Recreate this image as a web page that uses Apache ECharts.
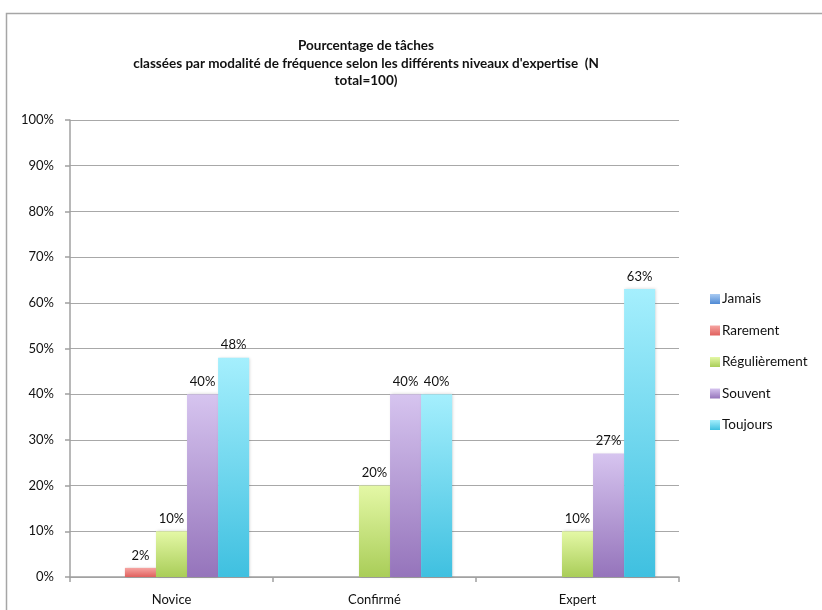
<!DOCTYPE html>
<html>
<head>
<meta charset="utf-8">
<script src="https://cdn.jsdelivr.net/npm/echarts@6/dist/echarts.min.js"></script>
<style>
  html, body { margin: 0; padding: 0; background: #fff; }
  #chart { width: 822px; height: 610px; }
</style>
</head>
<body>
<div id="chart"></div>
<script>
// Niveaux d'expertise (catégories)
const niveaux = ['Novice', 'Confirmé', 'Expert'];

// Pourcentage de tâches par modalité de fréquence
const jamais        = [0, 0, 0];
const rarement      = [2, 0, 0];
const regulierement = [10, 20, 10];
const souvent       = [40, 40, 27];
const toujours      = [48, 40, 63];

const yTicks = [0, 10, 20, 30, 40, 50, 60, 70, 80, 90, 100];

const FONT = 'Lato';

function grad(top, bottom) {
  return new echarts.graphic.LinearGradient(0, 0, 0, 1, [
    { offset: 0, color: top },
    { offset: 1, color: bottom }
  ]);
}

const palette = {
  'Jamais':        ['#a9cbf2', '#4f8ad4'],
  'Rarement':      ['#f6a5a2', '#e0605d'],
  'Régulièrement': ['#e4f8a6', '#a9cd58'],
  'Souvent':       ['#d6c4ef', '#9574bb'],
  'Toujours':      ['#a5effd', '#3fc0e0']
};

const seriesDefs = [
  ['Jamais', jamais],
  ['Rarement', rarement],
  ['Régulièrement', regulierement],
  ['Souvent', souvent],
  ['Toujours', toujours]
];

const chart = echarts.init(document.getElementById('chart'), null, { renderer: 'canvas' });

chart.setOption({
  animation: false,
  textStyle: { fontFamily: FONT },
  graphic: [{
    type: 'rect',
    shape: { x: 6.5, y: 13.5, width: 830, height: 620 },
    style: { fill: 'none', stroke: '#a6a6a6', lineWidth: 1.5 },
    silent: true
  }],
  title: {
    text: 'Pourcentage de tâches\nclassées par modalité de fréquence selon les différents niveaux d\'expertise  (N\ntotal=100)',
    left: 361,
    top: 32,
    textAlign: 'center',
    textStyle: {
      fontFamily: FONT,
      fontSize: 13.5,
      fontWeight: 'bold',
      color: '#111',
      lineHeight: 17.5
    }
  },
  legend: {
    orient: 'vertical',
    left: 705,
    top: 287,
    itemWidth: 10,
    itemHeight: 10,
    itemGap: 17.5,
    icon: 'rect',
    textStyle: { fontFamily: FONT, fontSize: 13.5, color: '#111', padding: [0, 0, 0, -3] },
    data: seriesDefs.map(d => d[0])
  },
  grid: { left: 70, right: 143, top: 120, bottom: 33, containLabel: false },
  xAxis: {
    type: 'category',
    data: niveaux,
    axisLine: { lineStyle: { color: '#a0a0a0', width: 1.5 } },
    axisTick: { show: true, length: 5, lineStyle: { color: '#a0a0a0', width: 1.5 } },
    axisLabel: { fontFamily: FONT, fontSize: 13, color: '#111', margin: 16 }
  },
  yAxis: {
    type: 'value',
    min: yTicks[0],
    max: yTicks[yTicks.length - 1],
    interval: 10,
    axisLine: { show: true, lineStyle: { color: '#a0a0a0', width: 1.5 } },
    axisTick: { show: true, length: 5, lineStyle: { color: '#a0a0a0', width: 1.5 } },
    splitLine: { lineStyle: { color: '#a8a8a8', width: 1.2 } },
    axisLabel: { fontFamily: FONT, fontSize: 13, color: '#111', margin: 16, formatter: '{value}%' }
  },
  series: seriesDefs.map(([name, values]) => ({
    name: name,
    type: 'bar',
    data: values,
    barGap: '0%',
    barCategoryGap: '23.5%',
    itemStyle: {
      color: grad(palette[name][0], palette[name][1]),
      shadowColor: 'rgba(0,0,0,0.18)',
      shadowBlur: 3,
      shadowOffsetX: 1
    },
    label: {
      show: true,
      position: 'top',
      distance: 6,
      fontFamily: FONT,
      fontSize: 13,
      color: '#111',
      formatter: p => (p.value > 0 ? p.value + '%' : '')
    }
  }))
});
</script>
</body>
</html>
